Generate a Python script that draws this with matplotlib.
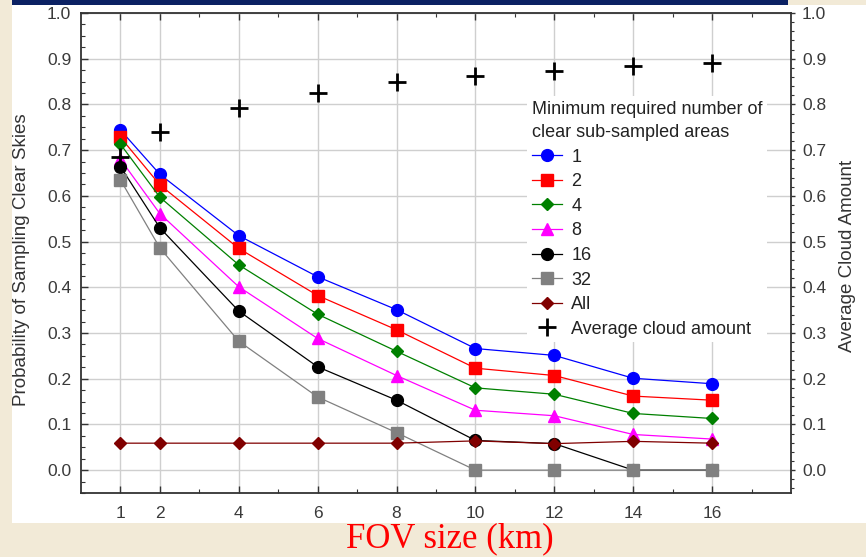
import matplotlib
matplotlib.use("Agg")
import matplotlib.pyplot as plt
from matplotlib.patches import Rectangle
from matplotlib.ticker import FixedLocator, MultipleLocator

# FOV sizes (km)
fov = [1, 2, 4, 6, 8, 10, 12, 14, 16]

# Probability of sampling clear skies, by minimum number of clear sub-sampled areas
p_1 = [0.744, 0.647, 0.513, 0.423, 0.351, 0.266, 0.251, 0.201, 0.189]
p_2 = [0.728, 0.624, 0.485, 0.382, 0.307, 0.223, 0.207, 0.162, 0.153]
p_4 = [0.713, 0.597, 0.449, 0.341, 0.260, 0.180, 0.166, 0.124, 0.113]
p_8 = [0.680, 0.561, 0.401, 0.288, 0.207, 0.131, 0.119, 0.078, 0.068]
p_16 = [0.664, 0.530, 0.348, 0.226, 0.153, 0.065, 0.058, 0.0, 0.0]
p_32 = [0.635, 0.486, 0.282, 0.160, 0.082, 0.0, 0.0, 0.0, 0.0]
p_all = [0.059, 0.059, 0.059, 0.059, 0.059, 0.064, 0.058, 0.063, 0.059]

# Average cloud amount (right axis)
cloud_amount = [0.686, 0.739, 0.792, 0.826, 0.849, 0.862, 0.873, 0.883, 0.890]

series_labels = ["1", "2", "4", "8", "16", "32", "All"]
y_ticks = [0.0, 0.1, 0.2, 0.3, 0.4, 0.5, 0.6, 0.7, 0.8, 0.9, 1.0]

W, H = 866, 557
fig = plt.figure(figsize=(W / 100, H / 100), dpi=100)
fig.patch.set_facecolor("#F2EAD7")

# slide decoration: navy band and white panel
fig.add_artist(Rectangle((12 / W, 1 - 5 / H), (788 - 12) / W, 5 / H,
                         transform=fig.transFigure, facecolor="#0B2163",
                         edgecolor="none", zorder=0))
fig.add_artist(Rectangle((12 / W, 1 - 523 / H), (W - 12) / W, (523 - 5) / H,
                         transform=fig.transFigure, facecolor="white",
                         edgecolor="none", zorder=0))

ax = fig.add_axes([81 / W, 1 - 493 / H, (791 - 81) / W, (493 - 13) / H])
ax.set_facecolor("white")

tick_font = "Liberation Sans"
tick_color = "#3a3a3a"

styles = [
    dict(color="#0000FF", marker="o", ms=8.5),
    dict(color="#FF0000", marker="s", ms=8.0),
    dict(color="#008000", marker="D", ms=6.5),
    dict(color="#FF00FF", marker="^", ms=8.5),
    dict(color="#000000", marker="o", ms=8.5),
    dict(color="#808080", marker="s", ms=8.0),
    dict(color="#800000", marker="D", ms=6.5),
]
series = [p_1, p_2, p_4, p_8, p_16, p_32, p_all]

handles = []
for vals, lab, st in zip(series, series_labels, styles):
    h, = ax.plot(fov, vals, color=st["color"], lw=0.9, marker=st["marker"],
                 ms=st["ms"], mfc=st["color"], mec=st["color"], label=lab,
                 zorder=3)
    handles.append(h)

hc, = ax.plot(fov, cloud_amount, linestyle="none", marker="+", ms=13,
              mew=2.0, color="black", label="Average cloud amount", zorder=4)
handles.append(hc)

ax.set_xlim(0, 18)
ax.set_ylim(-0.05, 1.0)
ax.set_xticks(fov)
ax.xaxis.set_minor_locator(FixedLocator([3, 5, 7, 9, 11, 13, 15, 17]))
ax.set_yticks(y_ticks)
ax.yaxis.set_minor_locator(MultipleLocator(0.025))
ax.set_yticklabels([f"{v:.1f}" for v in y_ticks])
ax.grid(True, which="major", color="#cfcfcf", lw=1.0, zorder=0)
ax.set_axisbelow(True)

ax.tick_params(axis="both", which="both", direction="in", colors="#333333",
               top=True, right=False)
ax.tick_params(axis="both", which="major", length=5, width=1.0)
ax.tick_params(axis="both", which="minor", length=3, width=0.8)
ax.tick_params(axis="x", which="major", pad=9, labelsize=12.5,
               labelcolor=tick_color)
ax.tick_params(axis="y", which="major", pad=7, labelsize=12.5,
               labelcolor=tick_color)
for lab in ax.get_xticklabels() + ax.get_yticklabels():
    lab.set_fontfamily(tick_font)

for sp in ax.spines.values():
    sp.set_color("#333333")
    sp.set_linewidth(1.3)

# right axis for the average cloud amount
ax2 = ax.twinx()
ax2.set_ylim(ax.get_ylim())
ax2.set_yticks(y_ticks)
ax2.set_yticklabels([f"{v:.1f}" for v in y_ticks])
ax2.yaxis.set_minor_locator(MultipleLocator(0.02))
ax2.tick_params(axis="y", which="major", direction="out", length=3, width=1.0,
                pad=5, labelsize=12.5, colors="#333333", labelcolor=tick_color)
ax2.tick_params(axis="y", which="minor", direction="out", length=2, width=0.8,
                colors="#333333")
for lab in ax2.get_yticklabels():
    lab.set_fontfamily(tick_font)
for sp in ax2.spines.values():
    sp.set_visible(False)

# axis titles
fig.text(22 / W, 1 - 260 / H, "Probability of Sampling Clear Skies",
         rotation=90, ha="center", va="center", fontsize=13.5,
         family=tick_font, color="#333333")
fig.text(848 / W, 1 - 256 / H, "Average Cloud Amount",
         rotation=90, ha="center", va="center", fontsize=13.5,
         family=tick_font, color="#333333")
fig.text(450 / W, 1 - 547 / H, "FOV size (km)", ha="center", va="baseline",
         fontsize=25, family="Liberation Serif", color="#FF0000")

leg = ax.legend(handles=handles, loc="upper left",
                bbox_to_anchor=(527 / W, 1 - 96 / H),
                bbox_transform=fig.transFigure, borderaxespad=0,
                title="Minimum required number of\nclear sub-sampled areas",
                alignment="left", frameon=True, fancybox=False,
                facecolor="white", edgecolor="none", framealpha=1.0,
                borderpad=0.25, labelspacing=0.42, handlelength=1.7,
                handletextpad=0.5, prop={"family": tick_font, "size": 13},
                title_fontproperties={"family": tick_font, "size": 13})
for t in leg.get_texts():
    t.set_color("#222222")
leg.get_title().set_color("#222222")
leg.get_title().set_linespacing(1.5)
leg.set_zorder(5)

fig.savefig("out.png", dpi=100, facecolor=fig.get_facecolor())
